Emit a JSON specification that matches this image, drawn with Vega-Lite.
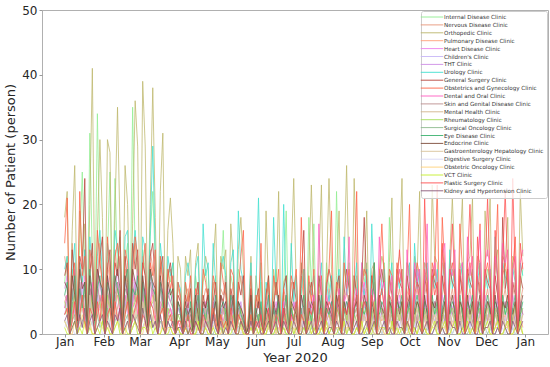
{
"$schema":"https://vega.github.io/schema/vega-lite/v6.json",
"width":506,"height":324,
"autosize":{"type":"none"},
"padding":{"left":42,"top":10,"right":2,"bottom":33},
"background":"white",
"config":{"view":{"stroke":"#b0b0b0","strokeWidth":1},"font":"DejaVu Sans"},
"datasets":{"names":[
{"k":"a","clinic":"Internal Disease Clinic"},{"k":"b","clinic":"Nervous Disease Clinic"},{"k":"c","clinic":"Orthopedic Clinic"},{"k":"d","clinic":"Pulmonary Disease Clinic"},{"k":"e","clinic":"Heart Disease Clinic"},{"k":"f","clinic":"Children's Clinic"},{"k":"g","clinic":"THT Clinic"},{"k":"h","clinic":"Urology Clinic"},{"k":"i","clinic":"General Surgery Clinic"},{"k":"j","clinic":"Obstetrics and Gynecology Clinic"},{"k":"k","clinic":"Dental and Oral Clinic"},{"k":"l","clinic":"Skin and Genital Disease Clinic"},{"k":"m","clinic":"Mental Health Clinic"},{"k":"n","clinic":"Rheumatology Clinic"},{"k":"o","clinic":"Surgical Oncology Clinic"},{"k":"p","clinic":"Eye Disease Clinic"},{"k":"q","clinic":"Endocrine Clinic"},{"k":"r","clinic":"Gastroenterology Hepatology Clinic"},{"k":"s","clinic":"Digestive Surgery Clinic"},{"k":"t","clinic":"Obstetric Oncology Clinic"},{"k":"u","clinic":"VCT Clinic"},{"k":"v","clinic":"Plastic Surgery Clinic"},{"k":"w","clinic":"Kidney and Hypertension Clinic"}
]},
"data":{"values":[
{"day":"2020-01-01","a":8,"b":12,"c":18,"d":5,"e":7,"f":3,"g":4,"h":10,"i":9,"j":14,"k":4,"l":6,"m":3,"n":5,"o":2,"p":6,"q":8,"r":3,"s":1,"t":2,"u":1,"v":3,"w":2},
{"day":"2020-01-03","a":12,"b":9,"c":22,"d":6,"e":9,"f":5,"g":6,"h":12,"i":11,"j":21,"k":6,"l":5,"m":4,"n":3,"o":1,"p":8,"q":7,"r":4,"s":2,"t":1,"u":0,"v":4,"w":3},
{"day":"2020-01-05","a":0,"b":1,"c":0,"d":0,"e":0,"f":0,"g":0,"h":0,"i":1,"j":0,"k":0,"l":0,"m":0,"n":0,"o":0,"p":0,"q":1,"r":0,"s":0,"t":0,"u":0,"v":0,"w":0},
{"day":"2020-01-07","a":10,"b":14,"c":16,"d":3,"e":6,"f":4,"g":7,"h":9,"i":13,"j":8,"k":3,"l":7,"m":5,"n":4,"o":2,"p":5,"q":9,"r":2,"s":1,"t":0,"u":1,"v":2,"w":1},
{"day":"2020-01-09","a":7,"b":8,"c":26,"d":7,"e":10,"f":6,"g":3,"h":14,"i":8,"j":11,"k":5,"l":4,"m":2,"n":6,"o":3,"p":9,"q":6,"r":5,"s":0,"t":2,"u":2,"v":5,"w":2},
{"day":"2020-01-11","a":2,"b":1,"c":3,"d":0,"e":1,"f":0,"g":1,"h":2,"i":1,"j":2,"k":0,"l":1,"m":0,"n":1,"o":0,"p":1,"q":2,"r":0,"s":0,"t":0,"u":0,"v":1,"w":0},
{"day":"2020-01-13","a":14,"b":11,"c":19,"d":4,"e":8,"f":3,"g":5,"h":11,"i":12,"j":22,"k":7,"l":8,"m":3,"n":2,"o":1,"p":7,"q":10,"r":3,"s":2,"t":1,"u":1,"v":3,"w":3},
{"day":"2020-01-15","a":25,"b":7,"c":12,"d":6,"e":5,"f":7,"g":8,"h":8,"i":10,"j":9,"k":4,"l":5,"m":6,"n":5,"o":2,"p":4,"q":7,"r":4,"s":1,"t":3,"u":0,"v":6,"w":1},
{"day":"2020-01-17","a":9,"b":13,"c":17,"d":2,"e":9,"f":4,"g":6,"h":13,"i":24,"j":12,"k":2,"l":6,"m":4,"n":7,"o":3,"p":8,"q":8,"r":2,"s":3,"t":1,"u":2,"v":2,"w":4},
{"day":"2020-01-19","a":1,"b":0,"c":0,"d":0,"e":0,"f":0,"g":0,"h":0,"i":0,"j":0,"k":0,"l":0,"m":0,"n":0,"o":0,"p":0,"q":1,"r":0,"s":0,"t":0,"u":0,"v":0,"w":0},
{"day":"2020-01-21","a":31,"b":10,"c":20,"d":5,"e":7,"f":5,"g":4,"h":15,"i":9,"j":13,"k":6,"l":7,"m":2,"n":3,"o":1,"p":10,"q":9,"r":6,"s":1,"t":2,"u":1,"v":4,"w":2},
{"day":"2020-01-23","a":11,"b":12,"c":41,"d":8,"e":6,"f":2,"g":7,"h":10,"i":14,"j":10,"k":8,"l":4,"m":5,"n":6,"o":2,"p":6,"q":5,"r":3,"s":2,"t":0,"u":0,"v":3,"w":3},
{"day":"2020-01-25","a":3,"b":2,"c":4,"d":1,"e":1,"f":0,"g":0,"h":2,"i":2,"j":1,"k":1,"l":1,"m":1,"n":0,"o":0,"p":1,"q":2,"r":1,"s":0,"t":0,"u":0,"v":0,"w":0},
{"day":"2020-01-27","a":34,"b":9,"c":15,"d":4,"e":10,"f":6,"g":5,"h":12,"i":7,"j":16,"k":3,"l":8,"m":3,"n":4,"o":3,"p":7,"q":10,"r":4,"s":1,"t":1,"u":1,"v":5,"w":1},
{"day":"2020-01-29","a":13,"b":14,"c":30,"d":6,"e":8,"f":4,"g":8,"h":16,"i":12,"j":11,"k":5,"l":5,"m":4,"n":5,"o":1,"p":9,"q":8,"r":2,"s":2,"t":2,"u":0,"v":2,"w":2},
{"day":"2020-01-31","a":8,"b":6,"c":18,"d":3,"e":5,"f":7,"g":6,"h":9,"i":15,"j":8,"k":7,"l":6,"m":6,"n":2,"o":2,"p":5,"q":7,"r":5,"s":0,"t":1,"u":2,"v":6,"w":3},
{"day":"2020-02-02","a":0,"b":1,"c":0,"d":0,"e":0,"f":0,"g":0,"h":0,"i":0,"j":0,"k":0,"l":0,"m":0,"n":0,"o":0,"p":0,"q":0,"r":0,"s":0,"t":0,"u":0,"v":0,"w":0},
{"day":"2020-02-04","a":12,"b":11,"c":30,"d":5,"e":9,"f":3,"g":4,"h":14,"i":10,"j":15,"k":4,"l":7,"m":2,"n":6,"o":4,"p":8,"q":9,"r":3,"s":1,"t":2,"u":1,"v":3,"w":2},
{"day":"2020-02-06","a":25,"b":8,"c":28,"d":7,"e":6,"f":5,"g":7,"h":11,"i":13,"j":9,"k":6,"l":4,"m":5,"n":3,"o":1,"p":6,"q":6,"r":4,"s":2,"t":0,"u":0,"v":4,"w":1},
{"day":"2020-02-08","a":2,"b":1,"c":2,"d":0,"e":1,"f":1,"g":0,"h":3,"i":1,"j":2,"k":0,"l":1,"m":0,"n":1,"o":0,"p":0,"q":1,"r":0,"s":0,"t":0,"u":0,"v":0,"w":0},
{"day":"2020-02-10","a":24,"b":13,"c":19,"d":4,"e":7,"f":6,"g":5,"h":16,"i":11,"j":12,"k":5,"l":6,"m":3,"n":4,"o":2,"p":9,"q":8,"r":5,"s":1,"t":1,"u":1,"v":5,"w":3},
{"day":"2020-02-12","a":10,"b":9,"c":35,"d":6,"e":10,"f":4,"g":8,"h":13,"i":9,"j":14,"k":7,"l":8,"m":4,"n":7,"o":3,"p":7,"q":10,"r":3,"s":2,"t":2,"u":2,"v":2,"w":2},
{"day":"2020-02-14","a":15,"b":12,"c":16,"d":3,"e":5,"f":2,"g":6,"h":10,"i":16,"j":10,"k":3,"l":5,"m":6,"n":5,"o":1,"p":5,"q":7,"r":2,"s":0,"t":1,"u":0,"v":4,"w":4},
{"day":"2020-02-16","a":0,"b":0,"c":0,"d":0,"e":0,"f":0,"g":0,"h":0,"i":0,"j":0,"k":0,"l":0,"m":0,"n":0,"o":0,"p":0,"q":0,"r":0,"s":0,"t":0,"u":0,"v":0,"w":0},
{"day":"2020-02-18","a":11,"b":10,"c":26,"d":5,"e":8,"f":5,"g":4,"h":15,"i":12,"j":13,"k":6,"l":7,"m":3,"n":3,"o":2,"p":8,"q":9,"r":4,"s":1,"t":0,"u":1,"v":3,"w":1},
{"day":"2020-02-20","a":14,"b":7,"c":20,"d":7,"e":6,"f":3,"g":7,"h":16,"i":8,"j":11,"k":4,"l":6,"m":5,"n":6,"o":3,"p":10,"q":6,"r":5,"s":2,"t":2,"u":0,"v":5,"w":2},
{"day":"2020-02-22","a":3,"b":2,"c":3,"d":1,"e":0,"f":0,"g":1,"h":2,"i":1,"j":2,"k":0,"l":1,"m":0,"n":0,"o":0,"p":1,"q":2,"r":0,"s":0,"t":0,"u":0,"v":1,"w":0},
{"day":"2020-02-24","a":35,"b":11,"c":17,"d":4,"e":9,"f":6,"g":5,"h":12,"i":14,"j":9,"k":5,"l":8,"m":4,"n":4,"o":1,"p":7,"q":10,"r":3,"s":1,"t":1,"u":1,"v":2,"w":3},
{"day":"2020-02-26","a":12,"b":14,"c":36,"d":6,"e":7,"f":4,"g":8,"h":16,"i":10,"j":15,"k":7,"l":5,"m":2,"n":5,"o":2,"p":6,"q":8,"r":4,"s":2,"t":2,"u":2,"v":4,"w":2},
{"day":"2020-02-28","a":9,"b":8,"c":29,"d":3,"e":10,"f":5,"g":6,"h":11,"i":13,"j":12,"k":3,"l":6,"m":6,"n":7,"o":3,"p":9,"q":7,"r":2,"s":0,"t":1,"u":0,"v":6,"w":1},
{"day":"2020-03-01","a":0,"b":0,"c":0,"d":0,"e":0,"f":0,"g":0,"h":0,"i":0,"j":0,"k":0,"l":0,"m":0,"n":0,"o":0,"p":0,"q":0,"r":0,"s":0,"t":0,"u":0,"v":0,"w":0},
{"day":"2020-03-03","a":13,"b":12,"c":39,"d":5,"e":8,"f":7,"g":4,"h":15,"i":11,"j":10,"k":6,"l":7,"m":3,"n":3,"o":1,"p":8,"q":9,"r":5,"s":1,"t":0,"u":1,"v":3,"w":4},
{"day":"2020-03-05","a":10,"b":9,"c":29,"d":7,"e":6,"f":3,"g":7,"h":13,"i":9,"j":14,"k":4,"l":4,"m":5,"n":6,"o":2,"p":5,"q":6,"r":3,"s":2,"t":2,"u":1,"v":2,"w":2},
{"day":"2020-03-07","a":2,"b":1,"c":3,"d":0,"e":1,"f":0,"g":0,"h":2,"i":2,"j":1,"k":1,"l":0,"m":1,"n":1,"o":0,"p":1,"q":1,"r":0,"s":0,"t":0,"u":0,"v":0,"w":0},
{"day":"2020-03-09","a":15,"b":13,"c":20,"d":4,"e":9,"f":5,"g":5,"h":16,"i":12,"j":11,"k":5,"l":8,"m":4,"n":4,"o":3,"p":10,"q":10,"r":4,"s":1,"t":1,"u":2,"v":5,"w":3},
{"day":"2020-03-11","a":22,"b":10,"c":38,"d":6,"e":7,"f":4,"g":8,"h":29,"i":14,"j":9,"k":7,"l":6,"m":2,"n":5,"o":1,"p":7,"q":8,"r":2,"s":2,"t":2,"u":0,"v":4,"w":1},
{"day":"2020-03-13","a":11,"b":7,"c":18,"d":3,"e":5,"f":6,"g":6,"h":12,"i":8,"j":13,"k":3,"l":5,"m":6,"n":7,"o":2,"p":6,"q":7,"r":5,"s":0,"t":1,"u":1,"v":2,"w":2},
{"day":"2020-03-15","a":0,"b":0,"c":0,"d":0,"e":0,"f":0,"g":0,"h":0,"i":0,"j":0,"k":0,"l":0,"m":0,"n":0,"o":0,"p":0,"q":0,"r":0,"s":0,"t":0,"u":0,"v":0,"w":0},
{"day":"2020-03-17","a":12,"b":11,"c":22,"d":5,"e":8,"f":3,"g":4,"h":14,"i":10,"j":12,"k":4,"l":7,"m":3,"n":3,"o":2,"p":8,"q":9,"r":3,"s":1,"t":0,"u":0,"v":3,"w":3},
{"day":"2020-03-19","a":9,"b":8,"c":31,"d":4,"e":6,"f":5,"g":7,"h":10,"i":12,"j":8,"k":5,"l":4,"m":4,"n":5,"o":1,"p":5,"q":6,"r":4,"s":2,"t":2,"u":1,"v":4,"w":1},
{"day":"2020-03-21","a":2,"b":1,"c":2,"d":0,"e":1,"f":0,"g":1,"h":1,"i":1,"j":2,"k":0,"l":1,"m":0,"n":0,"o":0,"p":1,"q":1,"r":0,"s":0,"t":0,"u":0,"v":0,"w":0},
{"day":"2020-03-23","a":10,"b":9,"c":16,"d":3,"e":7,"f":4,"g":5,"h":12,"i":9,"j":10,"k":3,"l":6,"m":3,"n":4,"o":2,"p":6,"q":8,"r":2,"s":1,"t":1,"u":0,"v":2,"w":2},
{"day":"2020-03-25","a":8,"b":10,"c":21,"d":4,"e":5,"f":2,"g":4,"h":9,"i":11,"j":7,"k":4,"l":5,"m":2,"n":3,"o":1,"p":7,"q":6,"r":3,"s":0,"t":1,"u":1,"v":3,"w":1},
{"day":"2020-03-27","a":11,"b":6,"c":14,"d":2,"e":6,"f":3,"g":3,"h":11,"i":7,"j":9,"k":2,"l":4,"m":3,"n":2,"o":1,"p":4,"q":7,"r":2,"s":1,"t":0,"u":0,"v":1,"w":2},
{"day":"2020-03-29","a":0,"b":0,"c":0,"d":0,"e":0,"f":0,"g":0,"h":0,"i":0,"j":0,"k":0,"l":0,"m":0,"n":0,"o":0,"p":0,"q":0,"r":0,"s":0,"t":0,"u":0,"v":0,"w":0},
{"day":"2020-03-31","a":7,"b":8,"c":12,"d":2,"e":4,"f":2,"g":4,"h":8,"i":6,"j":8,"k":2,"l":3,"m":2,"n":3,"o":1,"p":5,"q":5,"r":1,"s":0,"t":1,"u":1,"v":2,"w":1},
{"day":"2020-04-02","a":6,"b":5,"c":10,"d":1,"e":4,"f":2,"g":3,"h":7,"i":5,"j":6,"k":1,"l":3,"m":2,"n":2,"o":0,"p":3,"q":4,"r":1,"s":1,"t":0,"u":0,"v":2,"w":1},
{"day":"2020-04-04","a":1,"b":0,"c":0,"d":0,"e":0,"f":0,"g":0,"h":0,"i":0,"j":0,"k":0,"l":0,"m":0,"n":0,"o":0,"p":0,"q":0,"r":0,"s":0,"t":0,"u":0,"v":0,"w":0},
{"day":"2020-04-06","a":8,"b":6,"c":12,"d":2,"e":3,"f":1,"g":2,"h":9,"i":6,"j":8,"k":2,"l":4,"m":3,"n":1,"o":1,"p":4,"q":5,"r":2,"s":0,"t":1,"u":1,"v":1,"w":2},
{"day":"2020-04-08","a":5,"b":7,"c":9,"d":3,"e":5,"f":3,"g":4,"h":11,"i":4,"j":5,"k":3,"l":2,"m":1,"n":3,"o":0,"p":2,"q":3,"r":1,"s":1,"t":0,"u":0,"v":3,"w":0},
{"day":"2020-04-10","a":7,"b":4,"c":13,"d":1,"e":2,"f":2,"g":1,"h":8,"i":7,"j":9,"k":1,"l":3,"m":2,"n":2,"o":1,"p":5,"q":4,"r":0,"s":0,"t":1,"u":1,"v":0,"w":1},
{"day":"2020-04-12","a":0,"b":0,"c":0,"d":0,"e":0,"f":0,"g":0,"h":0,"i":0,"j":0,"k":0,"l":0,"m":0,"n":0,"o":0,"p":0,"q":0,"r":0,"s":0,"t":0,"u":0,"v":0,"w":0},
{"day":"2020-04-14","a":9,"b":6,"c":11,"d":2,"e":4,"f":1,"g":3,"h":10,"i":5,"j":7,"k":2,"l":4,"m":3,"n":1,"o":0,"p":3,"q":6,"r":2,"s":1,"t":0,"u":0,"v":2,"w":2},
{"day":"2020-04-16","a":6,"b":8,"c":14,"d":3,"e":6,"f":3,"g":5,"h":12,"i":8,"j":6,"k":4,"l":2,"m":2,"n":4,"o":1,"p":6,"q":3,"r":1,"s":0,"t":1,"u":2,"v":1,"w":1},
{"day":"2020-04-18","a":1,"b":0,"c":2,"d":0,"e":0,"f":0,"g":0,"h":0,"i":0,"j":0,"k":0,"l":0,"m":0,"n":0,"o":0,"p":0,"q":0,"r":0,"s":0,"t":0,"u":0,"v":0,"w":0},
{"day":"2020-04-20","a":8,"b":5,"c":9,"d":1,"e":3,"f":2,"g":2,"h":17,"i":6,"j":10,"k":1,"l":5,"m":1,"n":2,"o":0,"p":4,"q":5,"r":2,"s":1,"t":0,"u":0,"v":3,"w":0},
{"day":"2020-04-22","a":10,"b":7,"c":12,"d":2,"e":5,"f":4,"g":4,"h":9,"i":4,"j":8,"k":3,"l":3,"m":4,"n":3,"o":1,"p":2,"q":4,"r":1,"s":0,"t":1,"u":1,"v":2,"w":2},
{"day":"2020-04-24","a":5,"b":6,"c":10,"d":4,"e":2,"f":1,"g":3,"h":11,"i":7,"j":5,"k":2,"l":4,"m":2,"n":1,"o":2,"p":5,"q":6,"r":3,"s":1,"t":0,"u":0,"v":1,"w":1},
{"day":"2020-04-26","a":0,"b":0,"c":0,"d":0,"e":0,"f":0,"g":0,"h":0,"i":0,"j":0,"k":0,"l":0,"m":0,"n":0,"o":0,"p":0,"q":0,"r":0,"s":0,"t":0,"u":0,"v":0,"w":0},
{"day":"2020-04-28","a":7,"b":8,"c":11,"d":2,"e":4,"f":3,"g":5,"h":14,"i":5,"j":9,"k":4,"l":2,"m":3,"n":4,"o":0,"p":3,"q":3,"r":1,"s":2,"t":1,"u":1,"v":4,"w":3},
{"day":"2020-04-30","a":9,"b":5,"c":17,"d":3,"e":6,"f":2,"g":2,"h":8,"i":8,"j":7,"k":1,"l":5,"m":1,"n":2,"o":1,"p":6,"q":5,"r":2,"s":0,"t":2,"u":0,"v":2,"w":1},
{"day":"2020-05-02","a":0,"b":0,"c":0,"d":0,"e":0,"f":0,"g":0,"h":0,"i":0,"j":0,"k":0,"l":0,"m":0,"n":0,"o":0,"p":0,"q":0,"r":0,"s":0,"t":0,"u":0,"v":0,"w":0},
{"day":"2020-05-04","a":8,"b":7,"c":12,"d":1,"e":3,"f":4,"g":4,"h":10,"i":6,"j":11,"k":3,"l":3,"m":2,"n":3,"o":1,"p":4,"q":6,"r":0,"s":1,"t":0,"u":1,"v":3,"w":2},
{"day":"2020-05-06","a":16,"b":6,"c":10,"d":4,"e":5,"f":1,"g":3,"h":12,"i":5,"j":8,"k":2,"l":4,"m":4,"n":1,"o":0,"p":5,"q":4,"r":2,"s":0,"t":1,"u":0,"v":1,"w":0},
{"day":"2020-05-08","a":6,"b":9,"c":13,"d":2,"e":4,"f":3,"g":5,"h":9,"i":8,"j":6,"k":4,"l":2,"m":3,"n":4,"o":2,"p":3,"q":5,"r":1,"s":2,"t":0,"u":2,"v":2,"w":1},
{"day":"2020-05-10","a":0,"b":0,"c":0,"d":0,"e":0,"f":0,"g":0,"h":0,"i":0,"j":0,"k":0,"l":0,"m":0,"n":0,"o":0,"p":0,"q":0,"r":0,"s":0,"t":0,"u":0,"v":0,"w":0},
{"day":"2020-05-12","a":9,"b":5,"c":17,"d":3,"e":6,"f":2,"g":2,"h":11,"i":7,"j":10,"k":1,"l":5,"m":2,"n":2,"o":1,"p":6,"q":3,"r":3,"s":1,"t":1,"u":0,"v":4,"w":2},
{"day":"2020-05-14","a":7,"b":8,"c":11,"d":1,"e":3,"f":4,"g":4,"h":13,"i":5,"j":9,"k":3,"l":3,"m":1,"n":3,"o":0,"p":4,"q":6,"r":1,"s":0,"t":2,"u":1,"v":1,"w":1},
{"day":"2020-05-16","a":0,"b":0,"c":0,"d":0,"e":0,"f":0,"g":0,"h":0,"i":0,"j":0,"k":0,"l":0,"m":0,"n":0,"o":0,"p":0,"q":0,"r":0,"s":0,"t":0,"u":0,"v":0,"w":0},
{"day":"2020-05-18","a":10,"b":6,"c":13,"d":2,"e":5,"f":2,"g":3,"h":19,"i":8,"j":7,"k":2,"l":4,"m":3,"n":2,"o":1,"p":5,"q":5,"r":2,"s":1,"t":0,"u":0,"v":3,"w":0},
{"day":"2020-05-20","a":8,"b":9,"c":18,"d":4,"e":4,"f":3,"g":5,"h":10,"i":6,"j":12,"k":4,"l":2,"m":2,"n":4,"o":2,"p":3,"q":4,"r":1,"s":0,"t":1,"u":2,"v":2,"w":2},
{"day":"2020-05-22","a":6,"b":5,"c":10,"d":1,"e":2,"f":1,"g":2,"h":8,"i":9,"j":16,"k":1,"l":3,"m":1,"n":1,"o":0,"p":2,"q":3,"r":0,"s":1,"t":0,"u":0,"v":1,"w":1},
{"day":"2020-05-24","a":0,"b":0,"c":0,"d":0,"e":0,"f":0,"g":0,"h":0,"i":0,"j":0,"k":0,"l":0,"m":0,"n":0,"o":0,"p":0,"q":0,"r":0,"s":0,"t":0,"u":0,"v":0,"w":0},
{"day":"2020-05-26","a":2,"b":1,"c":3,"d":0,"e":1,"f":0,"g":0,"h":2,"i":1,"j":2,"k":0,"l":1,"m":0,"n":0,"o":0,"p":1,"q":1,"r":0,"s":0,"t":0,"u":0,"v":0,"w":0},
{"day":"2020-05-28","a":9,"b":7,"c":12,"d":3,"e":5,"f":3,"g":4,"h":11,"i":7,"j":9,"k":3,"l":4,"m":3,"n":3,"o":1,"p":5,"q":6,"r":2,"s":1,"t":1,"u":1,"v":3,"w":2},
{"day":"2020-05-30","a":0,"b":0,"c":0,"d":0,"e":0,"f":0,"g":0,"h":0,"i":0,"j":0,"k":0,"l":0,"m":0,"n":0,"o":0,"p":0,"q":0,"r":0,"s":0,"t":0,"u":0,"v":0,"w":0},
{"day":"2020-06-01","a":6,"b":4,"c":9,"d":1,"e":3,"f":2,"g":3,"h":7,"i":5,"j":6,"k":2,"l":3,"m":1,"n":2,"o":1,"p":4,"q":3,"r":1,"s":1,"t":0,"u":1,"v":2,"w":1},
{"day":"2020-06-03","a":4,"b":6,"c":5,"d":2,"e":5,"f":1,"g":2,"h":21,"i":7,"j":4,"k":3,"l":2,"m":3,"n":3,"o":0,"p":2,"q":5,"r":2,"s":0,"t":1,"u":0,"v":1,"w":2},
{"day":"2020-06-05","a":8,"b":3,"c":11,"d":0,"e":2,"f":3,"g":4,"h":5,"i":3,"j":14,"k":1,"l":4,"m":2,"n":1,"o":1,"p":5,"q":2,"r":0,"s":1,"t":1,"u":1,"v":3,"w":0},
{"day":"2020-06-07","a":0,"b":0,"c":0,"d":0,"e":0,"f":0,"g":0,"h":0,"i":0,"j":0,"k":0,"l":0,"m":0,"n":0,"o":0,"p":0,"q":0,"r":0,"s":0,"t":0,"u":0,"v":0,"w":0},
{"day":"2020-06-09","a":5,"b":7,"c":19,"d":2,"e":4,"f":2,"g":5,"h":8,"i":6,"j":5,"k":3,"l":1,"m":1,"n":4,"o":0,"p":3,"q":4,"r":2,"s":0,"t":0,"u":0,"v":2,"w":1},
{"day":"2020-06-11","a":9,"b":4,"c":7,"d":1,"e":6,"f":4,"g":2,"h":6,"i":9,"j":8,"k":4,"l":3,"m":3,"n":2,"o":1,"p":6,"q":3,"r":1,"s":1,"t":1,"u":2,"v":4,"w":2},
{"day":"2020-06-13","a":0,"b":0,"c":0,"d":0,"e":0,"f":0,"g":0,"h":0,"i":0,"j":0,"k":0,"l":0,"m":0,"n":0,"o":0,"p":0,"q":0,"r":0,"s":0,"t":0,"u":0,"v":0,"w":0},
{"day":"2020-06-15","a":6,"b":5,"c":10,"d":3,"e":3,"f":1,"g":4,"h":18,"i":4,"j":9,"k":2,"l":4,"m":2,"n":3,"o":0,"p":4,"q":5,"r":3,"s":1,"t":1,"u":0,"v":1,"w":1},
{"day":"2020-06-17","a":10,"b":8,"c":6,"d":1,"e":5,"f":3,"g":1,"h":7,"i":8,"j":6,"k":4,"l":2,"m":1,"n":1,"o":1,"p":2,"q":3,"r":0,"s":0,"t":0,"u":1,"v":3,"w":2},
{"day":"2020-06-19","a":4,"b":3,"c":22,"d":0,"e":2,"f":2,"g":5,"h":4,"i":5,"j":10,"k":3,"l":5,"m":3,"n":4,"o":0,"p":5,"q":6,"r":2,"s":1,"t":1,"u":0,"v":2,"w":0},
{"day":"2020-06-21","a":0,"b":0,"c":0,"d":0,"e":0,"f":0,"g":0,"h":0,"i":0,"j":0,"k":0,"l":0,"m":0,"n":0,"o":0,"p":0,"q":0,"r":0,"s":0,"t":0,"u":0,"v":0,"w":0},
{"day":"2020-06-23","a":7,"b":6,"c":8,"d":2,"e":4,"f":4,"g":3,"h":20,"i":7,"j":7,"k":5,"l":2,"m":2,"n":2,"o":1,"p":3,"q":4,"r":1,"s":0,"t":0,"u":1,"v":4,"w":2},
{"day":"2020-06-25","a":19,"b":4,"c":9,"d":1,"e":6,"f":1,"g":4,"h":6,"i":9,"j":5,"k":2,"l":3,"m":4,"n":3,"o":0,"p":6,"q":2,"r":3,"s":1,"t":1,"u":0,"v":1,"w":1},
{"day":"2020-06-27","a":0,"b":0,"c":0,"d":0,"e":0,"f":0,"g":0,"h":0,"i":0,"j":0,"k":0,"l":0,"m":0,"n":0,"o":0,"p":0,"q":0,"r":0,"s":0,"t":0,"u":0,"v":0,"w":0},
{"day":"2020-06-29","a":5,"b":8,"c":12,"d":2,"e":3,"f":3,"g":2,"h":14,"i":4,"j":9,"k":3,"l":4,"m":1,"n":5,"o":1,"p":4,"q":5,"r":1,"s":0,"t":0,"u":2,"v":3,"w":0},
{"day":"2020-07-01","a":7,"b":5,"c":24,"d":3,"e":5,"f":2,"g":5,"h":5,"i":8,"j":7,"k":4,"l":2,"m":3,"n":2,"o":0,"p":2,"q":4,"r":2,"s":1,"t":1,"u":0,"v":2,"w":2},
{"day":"2020-07-03","a":9,"b":3,"c":7,"d":1,"e":4,"f":4,"g":3,"h":9,"i":5,"j":10,"k":5,"l":3,"m":2,"n":4,"o":1,"p":5,"q":3,"r":0,"s":0,"t":0,"u":1,"v":5,"w":1},
{"day":"2020-07-05","a":0,"b":0,"c":0,"d":0,"e":0,"f":0,"g":0,"h":0,"i":0,"j":0,"k":0,"l":0,"m":0,"n":0,"o":0,"p":0,"q":0,"r":0,"s":0,"t":0,"u":0,"v":0,"w":0},
{"day":"2020-07-07","a":6,"b":9,"c":11,"d":3,"e":6,"f":1,"g":4,"h":7,"i":9,"j":18,"k":3,"l":4,"m":1,"n":3,"o":0,"p":3,"q":6,"r":2,"s":1,"t":1,"u":0,"v":3,"w":0},
{"day":"2020-07-09","a":10,"b":5,"c":8,"d":2,"e":3,"f":3,"g":2,"h":10,"i":16,"j":6,"k":2,"l":2,"m":4,"n":2,"o":1,"p":6,"q":4,"r":3,"s":0,"t":0,"u":1,"v":2,"w":2},
{"day":"2020-07-11","a":0,"b":0,"c":0,"d":0,"e":0,"f":0,"g":0,"h":0,"i":0,"j":0,"k":0,"l":0,"m":0,"n":0,"o":0,"p":0,"q":0,"r":0,"s":0,"t":0,"u":0,"v":0,"w":0},
{"day":"2020-07-13","a":18,"b":4,"c":10,"d":1,"e":5,"f":2,"g":5,"h":8,"i":6,"j":9,"k":5,"l":5,"m":2,"n":4,"o":0,"p":4,"q":3,"r":1,"s":1,"t":1,"u":2,"v":4,"w":1},
{"day":"2020-07-15","a":7,"b":7,"c":23,"d":3,"e":4,"f":4,"g":3,"h":6,"i":8,"j":5,"k":4,"l":3,"m":3,"n":1,"o":1,"p":2,"q":5,"r":2,"s":0,"t":0,"u":0,"v":3,"w":2},
{"day":"2020-07-17","a":17,"b":5,"c":9,"d":2,"e":6,"f":1,"g":4,"h":9,"i":5,"j":10,"k":6,"l":4,"m":1,"n":5,"o":0,"p":5,"q":4,"r":0,"s":1,"t":1,"u":1,"v":5,"w":0},
{"day":"2020-07-19","a":0,"b":0,"c":0,"d":0,"e":0,"f":0,"g":0,"h":0,"i":0,"j":0,"k":0,"l":0,"m":0,"n":0,"o":0,"p":0,"q":0,"r":0,"s":0,"t":0,"u":0,"v":0,"w":0},
{"day":"2020-07-21","a":6,"b":6,"c":11,"d":4,"e":3,"f":3,"g":2,"h":7,"i":9,"j":7,"k":17,"l":2,"m":2,"n":3,"o":1,"p":3,"q":6,"r":3,"s":0,"t":0,"u":0,"v":2,"w":1},
{"day":"2020-07-23","a":9,"b":8,"c":23,"d":1,"e":5,"f":2,"g":5,"h":11,"i":6,"j":9,"k":4,"l":5,"m":4,"n":2,"o":0,"p":6,"q":3,"r":1,"s":1,"t":1,"u":1,"v":4,"w":2},
{"day":"2020-07-25","a":0,"b":0,"c":0,"d":0,"e":0,"f":0,"g":0,"h":0,"i":0,"j":0,"k":0,"l":0,"m":0,"n":0,"o":0,"p":0,"q":0,"r":0,"s":0,"t":0,"u":0,"v":0,"w":0},
{"day":"2020-07-27","a":11,"b":4,"c":9,"d":2,"e":4,"f":4,"g":3,"h":8,"i":7,"j":8,"k":6,"l":3,"m":2,"n":4,"o":1,"p":4,"q":5,"r":2,"s":0,"t":1,"u":2,"v":3,"w":0},
{"day":"2020-07-29","a":7,"b":7,"c":24,"d":3,"e":6,"f":1,"g":4,"h":5,"i":10,"j":10,"k":3,"l":4,"m":3,"n":3,"o":0,"p":3,"q":4,"r":1,"s":1,"t":0,"u":0,"v":5,"w":1},
{"day":"2020-07-31","a":9,"b":5,"c":10,"d":1,"e":3,"f":3,"g":2,"h":9,"i":8,"j":19,"k":5,"l":2,"m":1,"n":2,"o":1,"p":5,"q":3,"r":2,"s":1,"t":0,"u":1,"v":4,"w":1},
{"day":"2020-08-02","a":0,"b":0,"c":0,"d":0,"e":0,"f":0,"g":0,"h":0,"i":0,"j":0,"k":0,"l":0,"m":0,"n":0,"o":0,"p":0,"q":0,"r":0,"s":0,"t":0,"u":0,"v":0,"w":0},
{"day":"2020-08-04","a":22,"b":6,"c":9,"d":3,"e":5,"f":2,"g":5,"h":7,"i":7,"j":8,"k":4,"l":4,"m":2,"n":4,"o":1,"p":4,"q":6,"r":3,"s":0,"t":1,"u":0,"v":3,"w":2},
{"day":"2020-08-06","a":6,"b":8,"c":19,"d":1,"e":4,"f":4,"g":3,"h":10,"i":9,"j":6,"k":7,"l":3,"m":4,"n":3,"o":0,"p":6,"q":4,"r":1,"s":1,"t":1,"u":1,"v":6,"w":1},
{"day":"2020-08-08","a":0,"b":0,"c":0,"d":0,"e":0,"f":0,"g":0,"h":0,"i":0,"j":0,"k":0,"l":0,"m":0,"n":0,"o":0,"p":0,"q":0,"r":0,"s":0,"t":0,"u":0,"v":0,"w":0},
{"day":"2020-08-10","a":10,"b":5,"c":11,"d":2,"e":6,"f":1,"g":4,"h":15,"i":6,"j":11,"k":5,"l":4,"m":2,"n":5,"o":1,"p":3,"q":5,"r":2,"s":1,"t":0,"u":2,"v":4,"w":0},
{"day":"2020-08-12","a":8,"b":7,"c":26,"d":3,"e":3,"f":3,"g":5,"h":6,"i":10,"j":7,"k":6,"l":2,"m":3,"n":2,"o":0,"p":5,"q":3,"r":0,"s":0,"t":1,"u":0,"v":3,"w":2},
{"day":"2020-08-14","a":11,"b":4,"c":8,"d":1,"e":5,"f":2,"g":2,"h":9,"i":7,"j":10,"k":15,"l":5,"m":1,"n":4,"o":1,"p":4,"q":6,"r":3,"s":1,"t":1,"u":1,"v":5,"w":1},
{"day":"2020-08-16","a":0,"b":0,"c":0,"d":0,"e":0,"f":0,"g":0,"h":0,"i":0,"j":0,"k":0,"l":0,"m":0,"n":0,"o":0,"p":0,"q":0,"r":0,"s":0,"t":0,"u":0,"v":0,"w":0},
{"day":"2020-08-18","a":9,"b":6,"c":24,"d":2,"e":4,"f":4,"g":4,"h":7,"i":9,"j":8,"k":5,"l":3,"m":3,"n":3,"o":0,"p":3,"q":4,"r":1,"s":1,"t":0,"u":0,"v":4,"w":1},
{"day":"2020-08-20","a":7,"b":9,"c":10,"d":3,"e":6,"f":1,"g":5,"h":11,"i":6,"j":22,"k":7,"l":4,"m":4,"n":2,"o":1,"p":6,"q":5,"r":2,"s":0,"t":1,"u":1,"v":6,"w":2},
{"day":"2020-08-22","a":0,"b":0,"c":0,"d":0,"e":0,"f":0,"g":0,"h":0,"i":0,"j":0,"k":0,"l":0,"m":0,"n":0,"o":0,"p":0,"q":0,"r":0,"s":0,"t":0,"u":0,"v":0,"w":0},
{"day":"2020-08-24","a":10,"b":5,"c":11,"d":1,"e":11,"f":3,"g":3,"h":8,"i":8,"j":7,"k":6,"l":2,"m":2,"n":5,"o":0,"p":4,"q":3,"r":1,"s":0,"t":1,"u":2,"v":3,"w":0},
{"day":"2020-08-26","a":8,"b":7,"c":9,"d":3,"e":5,"f":2,"g":4,"h":6,"i":18,"j":10,"k":8,"l":5,"m":3,"n":3,"o":1,"p":3,"q":6,"r":3,"s":1,"t":0,"u":0,"v":5,"w":1},
{"day":"2020-08-28","a":11,"b":4,"c":19,"d":2,"e":3,"f":4,"g":5,"h":10,"i":7,"j":9,"k":5,"l":3,"m":1,"n":4,"o":0,"p":5,"q":4,"r":1,"s":1,"t":1,"u":1,"v":4,"w":2},
{"day":"2020-08-30","a":0,"b":0,"c":0,"d":0,"e":0,"f":0,"g":0,"h":0,"i":0,"j":0,"k":0,"l":0,"m":0,"n":0,"o":0,"p":0,"q":0,"r":0,"s":0,"t":0,"u":0,"v":0,"w":0},
{"day":"2020-09-01","a":9,"b":6,"c":10,"d":3,"e":6,"f":1,"g":3,"h":17,"i":9,"j":8,"k":7,"l":4,"m":2,"n":2,"o":1,"p":4,"q":5,"r":2,"s":0,"t":1,"u":0,"v":6,"w":1},
{"day":"2020-09-03","a":7,"b":8,"c":11,"d":1,"e":4,"f":3,"g":4,"h":7,"i":6,"j":11,"k":6,"l":2,"m":4,"n":5,"o":0,"p":11,"q":3,"r":1,"s":1,"t":0,"u":2,"v":4,"w":2},
{"day":"2020-09-05","a":0,"b":0,"c":0,"d":0,"e":0,"f":0,"g":0,"h":0,"i":0,"j":0,"k":0,"l":0,"m":0,"n":0,"o":0,"p":0,"q":0,"r":0,"s":0,"t":0,"u":0,"v":0,"w":0},
{"day":"2020-09-07","a":10,"b":5,"c":9,"d":3,"e":5,"f":2,"g":5,"h":9,"i":8,"j":9,"k":15,"l":5,"m":1,"n":3,"o":1,"p":3,"q":6,"r":3,"s":1,"t":1,"u":0,"v":5,"w":0},
{"day":"2020-09-09","a":8,"b":7,"c":12,"d":2,"e":3,"f":4,"g":3,"h":6,"i":10,"j":17,"k":7,"l":3,"m":3,"n":4,"o":0,"p":5,"q":4,"r":1,"s":0,"t":1,"u":1,"v":7,"w":1},
{"day":"2020-09-11","a":11,"b":4,"c":10,"d":3,"e":6,"f":1,"g":4,"h":10,"i":7,"j":8,"k":8,"l":4,"m":2,"n":2,"o":1,"p":4,"q":3,"r":0,"s":1,"t":0,"u":1,"v":4,"w":2},
{"day":"2020-09-13","a":0,"b":0,"c":0,"d":0,"e":0,"f":0,"g":0,"h":0,"i":0,"j":0,"k":0,"l":0,"m":0,"n":0,"o":0,"p":0,"q":0,"r":0,"s":0,"t":0,"u":0,"v":0,"w":0},
{"day":"2020-09-15","a":18,"b":6,"c":11,"d":2,"e":4,"f":3,"g":5,"h":8,"i":9,"j":10,"k":6,"l":2,"m":4,"n":5,"o":0,"p":6,"q":5,"r":3,"s":1,"t":1,"u":0,"v":6,"w":1},
{"day":"2020-09-17","a":9,"b":8,"c":21,"d":3,"e":5,"f":2,"g":3,"h":11,"i":6,"j":9,"k":9,"l":5,"m":1,"n":3,"o":1,"p":3,"q":4,"r":1,"s":0,"t":1,"u":2,"v":5,"w":0},
{"day":"2020-09-19","a":0,"b":0,"c":0,"d":0,"e":0,"f":0,"g":0,"h":0,"i":0,"j":0,"k":0,"l":0,"m":0,"n":0,"o":0,"p":0,"q":0,"r":0,"s":0,"t":0,"u":0,"v":0,"w":0},
{"day":"2020-09-21","a":7,"b":5,"c":10,"d":1,"e":3,"f":4,"g":4,"h":9,"i":10,"j":11,"k":7,"l":3,"m":3,"n":4,"o":0,"p":5,"q":6,"r":2,"s":1,"t":0,"u":1,"v":7,"w":2},
{"day":"2020-09-23","a":10,"b":7,"c":12,"d":3,"e":6,"f":1,"g":5,"h":7,"i":8,"j":8,"k":10,"l":4,"m":2,"n":2,"o":1,"p":4,"q":3,"r":3,"s":1,"t":1,"u":0,"v":13,"w":1},
{"day":"2020-09-25","a":8,"b":4,"c":24,"d":2,"e":4,"f":3,"g":3,"h":10,"i":7,"j":10,"k":8,"l":2,"m":4,"n":5,"o":0,"p":6,"q":5,"r":1,"s":0,"t":1,"u":1,"v":8,"w":1},
{"day":"2020-09-27","a":0,"b":0,"c":0,"d":0,"e":0,"f":0,"g":0,"h":0,"i":0,"j":0,"k":0,"l":0,"m":0,"n":0,"o":0,"p":0,"q":0,"r":0,"s":0,"t":0,"u":0,"v":0,"w":0},
{"day":"2020-09-29","a":11,"b":6,"c":11,"d":3,"e":5,"f":2,"g":4,"h":8,"i":9,"j":9,"k":13,"l":5,"m":1,"n":3,"o":1,"p":3,"q":4,"r":2,"s":1,"t":0,"u":2,"v":5,"w":2},
{"day":"2020-10-01","a":9,"b":8,"c":10,"d":1,"e":3,"f":4,"g":5,"h":11,"i":6,"j":20,"k":7,"l":3,"m":3,"n":4,"o":0,"p":5,"q":6,"r":1,"s":0,"t":1,"u":0,"v":7,"w":1},
{"day":"2020-10-03","a":0,"b":0,"c":0,"d":0,"e":0,"f":0,"g":0,"h":0,"i":0,"j":0,"k":0,"l":0,"m":0,"n":0,"o":0,"p":0,"q":0,"r":0,"s":0,"t":0,"u":0,"v":0,"w":0},
{"day":"2020-10-05","a":7,"b":5,"c":12,"d":3,"e":6,"f":1,"g":3,"h":14,"i":10,"j":8,"k":11,"l":4,"m":2,"n":2,"o":1,"p":4,"q":3,"r":3,"s":1,"t":1,"u":1,"v":6,"w":0},
{"day":"2020-10-07","a":10,"b":7,"c":9,"d":2,"e":4,"f":3,"g":10,"h":7,"i":8,"j":11,"k":8,"l":2,"m":4,"n":5,"o":0,"p":6,"q":5,"r":1,"s":1,"t":0,"u":0,"v":8,"w":2},
{"day":"2020-10-09","a":8,"b":4,"c":22,"d":3,"e":5,"f":2,"g":4,"h":10,"i":7,"j":9,"k":10,"l":5,"m":1,"n":3,"o":1,"p":3,"q":4,"r":2,"s":0,"t":1,"u":2,"v":5,"w":1},
{"day":"2020-10-11","a":0,"b":0,"c":0,"d":0,"e":0,"f":0,"g":0,"h":0,"i":0,"j":0,"k":0,"l":0,"m":0,"n":0,"o":0,"p":0,"q":0,"r":0,"s":0,"t":0,"u":0,"v":0,"w":0},
{"day":"2020-10-13","a":11,"b":6,"c":11,"d":1,"e":3,"f":4,"g":5,"h":8,"i":9,"j":10,"k":9,"l":3,"m":3,"n":4,"o":0,"p":5,"q":6,"r":3,"s":1,"t":1,"u":1,"v":21,"w":1},
{"day":"2020-10-15","a":9,"b":8,"c":10,"d":3,"e":6,"f":1,"g":3,"h":11,"i":6,"j":8,"k":17,"l":4,"m":2,"n":2,"o":1,"p":4,"q":3,"r":1,"s":1,"t":0,"u":0,"v":7,"w":2},
{"day":"2020-10-17","a":0,"b":0,"c":0,"d":0,"e":0,"f":0,"g":0,"h":0,"i":0,"j":0,"k":0,"l":0,"m":0,"n":0,"o":0,"p":0,"q":0,"r":0,"s":0,"t":0,"u":0,"v":0,"w":0},
{"day":"2020-10-19","a":7,"b":5,"c":23,"d":2,"e":4,"f":3,"g":4,"h":9,"i":10,"j":11,"k":9,"l":2,"m":4,"n":5,"o":0,"p":6,"q":5,"r":2,"s":0,"t":1,"u":1,"v":9,"w":0},
{"day":"2020-10-21","a":10,"b":12,"c":12,"d":3,"e":5,"f":2,"g":5,"h":7,"i":8,"j":9,"k":11,"l":5,"m":1,"n":3,"o":1,"p":3,"q":4,"r":3,"s":1,"t":1,"u":2,"v":6,"w":1},
{"day":"2020-10-23","a":8,"b":4,"c":11,"d":1,"e":3,"f":4,"g":3,"h":10,"i":7,"j":23,"k":8,"l":3,"m":3,"n":4,"o":0,"p":5,"q":6,"r":1,"s":1,"t":0,"u":0,"v":8,"w":2},
{"day":"2020-10-25","a":0,"b":0,"c":0,"d":0,"e":0,"f":0,"g":0,"h":0,"i":0,"j":0,"k":0,"l":0,"m":0,"n":0,"o":0,"p":0,"q":0,"r":0,"s":0,"t":0,"u":0,"v":0,"w":0},
{"day":"2020-10-27","a":11,"b":6,"c":13,"d":3,"e":6,"f":1,"g":4,"h":8,"i":9,"j":18,"k":12,"l":4,"m":2,"n":2,"o":1,"p":4,"q":3,"r":2,"s":0,"t":1,"u":1,"v":14,"w":1},
{"day":"2020-10-29","a":9,"b":8,"c":10,"d":2,"e":4,"f":3,"g":5,"h":11,"i":6,"j":10,"k":14,"l":2,"m":4,"n":5,"o":0,"p":6,"q":5,"r":1,"s":1,"t":1,"u":2,"v":7,"w":0},
{"day":"2020-10-31","a":0,"b":0,"c":0,"d":0,"e":0,"f":0,"g":0,"h":0,"i":0,"j":0,"k":0,"l":0,"m":0,"n":0,"o":0,"p":0,"q":0,"r":0,"s":0,"t":0,"u":0,"v":0,"w":0},
{"day":"2020-11-02","a":7,"b":5,"c":12,"d":3,"e":5,"f":2,"g":3,"h":13,"i":10,"j":9,"k":10,"l":5,"m":1,"n":3,"o":1,"p":3,"q":4,"r":3,"s":1,"t":0,"u":0,"v":9,"w":2},
{"day":"2020-11-04","a":10,"b":7,"c":21,"d":1,"e":3,"f":4,"g":4,"h":7,"i":8,"j":11,"k":9,"l":3,"m":3,"n":4,"o":0,"p":5,"q":6,"r":2,"s":0,"t":1,"u":1,"v":17,"w":1},
{"day":"2020-11-06","a":8,"b":4,"c":11,"d":3,"e":6,"f":1,"g":5,"h":10,"i":7,"j":8,"k":13,"l":4,"m":2,"n":2,"o":1,"p":4,"q":3,"r":1,"s":1,"t":1,"u":2,"v":8,"w":1},
{"day":"2020-11-08","a":0,"b":0,"c":0,"d":0,"e":0,"f":0,"g":0,"h":0,"i":0,"j":0,"k":0,"l":0,"m":0,"n":0,"o":0,"p":0,"q":0,"r":0,"s":0,"t":0,"u":0,"v":0,"w":0},
{"day":"2020-11-10","a":11,"b":6,"c":13,"d":2,"e":4,"f":3,"g":3,"h":8,"i":9,"j":17,"k":10,"l":2,"m":4,"n":5,"o":0,"p":6,"q":5,"r":3,"s":1,"t":0,"u":0,"v":10,"w":2},
{"day":"2020-11-12","a":9,"b":8,"c":21,"d":3,"e":5,"f":2,"g":4,"h":11,"i":6,"j":10,"k":11,"l":5,"m":1,"n":3,"o":1,"p":3,"q":4,"r":1,"s":0,"t":1,"u":1,"v":7,"w":0},
{"day":"2020-11-14","a":0,"b":0,"c":0,"d":0,"e":0,"f":0,"g":0,"h":0,"i":0,"j":0,"k":0,"l":0,"m":0,"n":0,"o":0,"p":0,"q":0,"r":0,"s":0,"t":0,"u":0,"v":0,"w":0},
{"day":"2020-11-16","a":7,"b":5,"c":11,"d":1,"e":3,"f":4,"g":5,"h":9,"i":10,"j":9,"k":15,"l":3,"m":3,"n":4,"o":0,"p":5,"q":6,"r":2,"s":1,"t":1,"u":2,"v":11,"w":1},
{"day":"2020-11-18","a":10,"b":7,"c":12,"d":3,"e":6,"f":1,"g":3,"h":7,"i":8,"j":11,"k":9,"l":4,"m":2,"n":2,"o":1,"p":4,"q":3,"r":3,"s":1,"t":0,"u":0,"v":20,"w":2},
{"day":"2020-11-20","a":8,"b":4,"c":21,"d":2,"e":4,"f":3,"g":4,"h":10,"i":7,"j":8,"k":12,"l":2,"m":4,"n":5,"o":0,"p":6,"q":5,"r":1,"s":0,"t":1,"u":1,"v":9,"w":1},
{"day":"2020-11-22","a":0,"b":0,"c":0,"d":0,"e":0,"f":0,"g":0,"h":0,"i":0,"j":0,"k":0,"l":0,"m":0,"n":0,"o":0,"p":0,"q":0,"r":0,"s":0,"t":0,"u":0,"v":0,"w":0},
{"day":"2020-11-24","a":11,"b":6,"c":12,"d":3,"e":5,"f":2,"g":5,"h":8,"i":9,"j":10,"k":10,"l":5,"m":1,"n":3,"o":1,"p":3,"q":4,"r":2,"s":1,"t":1,"u":2,"v":15,"w":0},
{"day":"2020-11-26","a":9,"b":8,"c":11,"d":1,"e":3,"f":4,"g":3,"h":11,"i":6,"j":17,"k":16,"l":3,"m":3,"n":4,"o":0,"p":5,"q":6,"r":3,"s":1,"t":0,"u":0,"v":8,"w":2},
{"day":"2020-11-28","a":0,"b":0,"c":0,"d":0,"e":0,"f":0,"g":0,"h":0,"i":0,"j":0,"k":0,"l":0,"m":0,"n":0,"o":0,"p":0,"q":0,"r":0,"s":0,"t":0,"u":0,"v":0,"w":0},
{"day":"2020-11-30","a":7,"b":5,"c":19,"d":3,"e":6,"f":1,"g":4,"h":9,"i":10,"j":9,"k":11,"l":4,"m":2,"n":2,"o":1,"p":4,"q":3,"r":1,"s":0,"t":1,"u":1,"v":10,"w":1},
{"day":"2020-12-02","a":10,"b":7,"c":12,"d":2,"e":4,"f":3,"g":5,"h":7,"i":8,"j":11,"k":13,"l":2,"m":4,"n":5,"o":0,"p":6,"q":5,"r":2,"s":1,"t":1,"u":2,"v":21,"w":1},
{"day":"2020-12-04","a":8,"b":4,"c":21,"d":3,"e":5,"f":2,"g":3,"h":10,"i":7,"j":8,"k":10,"l":5,"m":1,"n":3,"o":1,"p":3,"q":4,"r":3,"s":1,"t":0,"u":0,"v":9,"w":2},
{"day":"2020-12-06","a":0,"b":0,"c":0,"d":0,"e":0,"f":0,"g":0,"h":0,"i":0,"j":0,"k":0,"l":0,"m":0,"n":0,"o":0,"p":0,"q":0,"r":0,"s":0,"t":0,"u":0,"v":0,"w":0},
{"day":"2020-12-08","a":11,"b":6,"c":11,"d":1,"e":3,"f":4,"g":4,"h":15,"i":9,"j":10,"k":12,"l":3,"m":3,"n":4,"o":0,"p":5,"q":6,"r":1,"s":0,"t":1,"u":1,"v":16,"w":0},
{"day":"2020-12-10","a":9,"b":8,"c":13,"d":3,"e":6,"f":1,"g":5,"h":8,"i":6,"j":20,"k":9,"l":4,"m":2,"n":2,"o":1,"p":4,"q":3,"r":2,"s":1,"t":1,"u":2,"v":8,"w":1},
{"day":"2020-12-12","a":0,"b":0,"c":0,"d":0,"e":0,"f":0,"g":0,"h":0,"i":0,"j":0,"k":0,"l":0,"m":0,"n":0,"o":0,"p":0,"q":0,"r":0,"s":0,"t":0,"u":0,"v":0,"w":0},
{"day":"2020-12-14","a":7,"b":5,"c":12,"d":2,"e":4,"f":3,"g":3,"h":11,"i":18,"j":9,"k":14,"l":2,"m":4,"n":5,"o":0,"p":6,"q":5,"r":3,"s":1,"t":0,"u":0,"v":11,"w":2},
{"day":"2020-12-16","a":10,"b":7,"c":11,"d":3,"e":5,"f":2,"g":4,"h":9,"i":7,"j":11,"k":11,"l":5,"m":1,"n":3,"o":1,"p":3,"q":4,"r":1,"s":0,"t":1,"u":1,"v":22,"w":1},
{"day":"2020-12-18","a":8,"b":4,"c":18,"d":1,"e":3,"f":4,"g":5,"h":7,"i":10,"j":8,"k":13,"l":3,"m":3,"n":4,"o":0,"p":5,"q":6,"r":2,"s":1,"t":1,"u":2,"v":9,"w":0},
{"day":"2020-12-20","a":0,"b":0,"c":0,"d":0,"e":0,"f":0,"g":0,"h":0,"i":0,"j":0,"k":0,"l":0,"m":0,"n":0,"o":0,"p":0,"q":0,"r":0,"s":0,"t":0,"u":0,"v":0,"w":0},
{"day":"2020-12-22","a":11,"b":6,"c":12,"d":3,"e":6,"f":1,"g":3,"h":10,"i":8,"j":10,"k":10,"l":4,"m":2,"n":2,"o":1,"p":4,"q":3,"r":3,"s":1,"t":0,"u":0,"v":24,"w":2},
{"day":"2020-12-24","a":9,"b":8,"c":11,"d":2,"e":4,"f":3,"g":4,"h":8,"i":6,"j":15,"k":12,"l":2,"m":4,"n":5,"o":0,"p":6,"q":5,"r":1,"s":0,"t":1,"u":1,"v":8,"w":1},
{"day":"2020-12-26","a":0,"b":0,"c":0,"d":0,"e":0,"f":0,"g":0,"h":0,"i":0,"j":0,"k":0,"l":0,"m":0,"n":0,"o":0,"p":0,"q":0,"r":0,"s":0,"t":0,"u":0,"v":0,"w":0},
{"day":"2020-12-28","a":7,"b":5,"c":22,"d":3,"e":5,"f":2,"g":5,"h":11,"i":9,"j":9,"k":11,"l":5,"m":1,"n":3,"o":1,"p":3,"q":4,"r":2,"s":1,"t":1,"u":2,"v":14,"w":1},
{"day":"2020-12-30","a":10,"b":7,"c":12,"d":1,"e":3,"f":4,"g":3,"h":9,"i":7,"j":11,"k":13,"l":3,"m":3,"n":4,"o":0,"p":5,"q":6,"r":3,"s":1,"t":0,"u":0,"v":10,"w":2}
]},
"transform":[
{"fold":["a","b","c","d","e","f","g","h","i","j","k","l","m","n","o","p","q","r","s","t","u","v","w"],"as":["k","v"]},
{"lookup":"k","from":{"data":{"name":"names"},"key":"k","fields":["clinic"]}}
],
"mark":{"type":"line","strokeWidth":0.9,"opacity":0.85},
"encoding":{
"x":{"field":"day","type":"temporal",
"scale":{"type":"utc","domain":[{"year":2019,"month":12,"date":14,"utc":true},{"year":2021,"month":1,"date":19,"utc":true}]},
"axis":{"title":"Year 2020","format":"%b","tickCount":{"interval":"month","step":1},"grid":false,"domain":false,"labelFontSize":12,"labelColor":"#262626","labelPadding":-1,"tickSize":3,"tickColor":"#999999","titleFontSize":13,"titleFontWeight":"normal","titleColor":"#262626","titlePadding":4,"labelFlush":false,"labelOverlap":false}},
"y":{"field":"v","type":"quantitative","scale":{"domain":[0,50],"nice":false},
"axis":{"title":"Number of Patient (person)","values":[0,10,20,30,40,50],"grid":false,"domain":false,"labelFontSize":12,"labelColor":"#262626","labelPadding":2,"tickSize":3,"tickColor":"#999999","titleFontSize":13,"titleFontWeight":"normal","titleColor":"#262626","titlePadding":4}},
"color":{"field":"clinic","type":"nominal",
"scale":{"domain":["Internal Disease Clinic","Nervous Disease Clinic","Orthopedic Clinic","Pulmonary Disease Clinic","Heart Disease Clinic","Children's Clinic","THT Clinic","Urology Clinic","General Surgery Clinic","Obstetrics and Gynecology Clinic","Dental and Oral Clinic","Skin and Genital Disease Clinic","Mental Health Clinic","Rheumatology Clinic","Surgical Oncology Clinic","Eye Disease Clinic","Endocrine Clinic","Gastroenterology Hepatology Clinic","Digestive Surgery Clinic","Obstetric Oncology Clinic","VCT Clinic","Plastic Surgery Clinic","Kidney and Hypertension Clinic"],
"range":["#90ee90","#e9967a","#bdb76b","#ffa07a","#ee82ee","#c8b8f8","#ce8ee6","#40e0d0","#b8453c","#ff6347","#ff5fc0","#bc8f8f","#d2b48c","#a6e05a","#8fbc8f","#3cb371","#7d4b3a","#d9c39a","#d8d8f6","#ffd27a","#c6f02a","#ff5050","#8b5878"]},
"legend":{"title":null,"orient":"none","legendX":379,"legendY":1,"padding":3,"fillColor":"rgba(255,255,255,0.8)","strokeColor":"#cccccc","cornerRadius":2,"labelFontSize":5.6,"labelColor":"#333333","labelLimit":200,"symbolType":"M-4.5,0H4.5","symbolSize":25,"symbolStrokeWidth":1,"symbolFillColor":"transparent","symbolOpacity":0.9,"symbolOffset":5,"rowPadding":0.9,"labelOffset":9}}
}
}
